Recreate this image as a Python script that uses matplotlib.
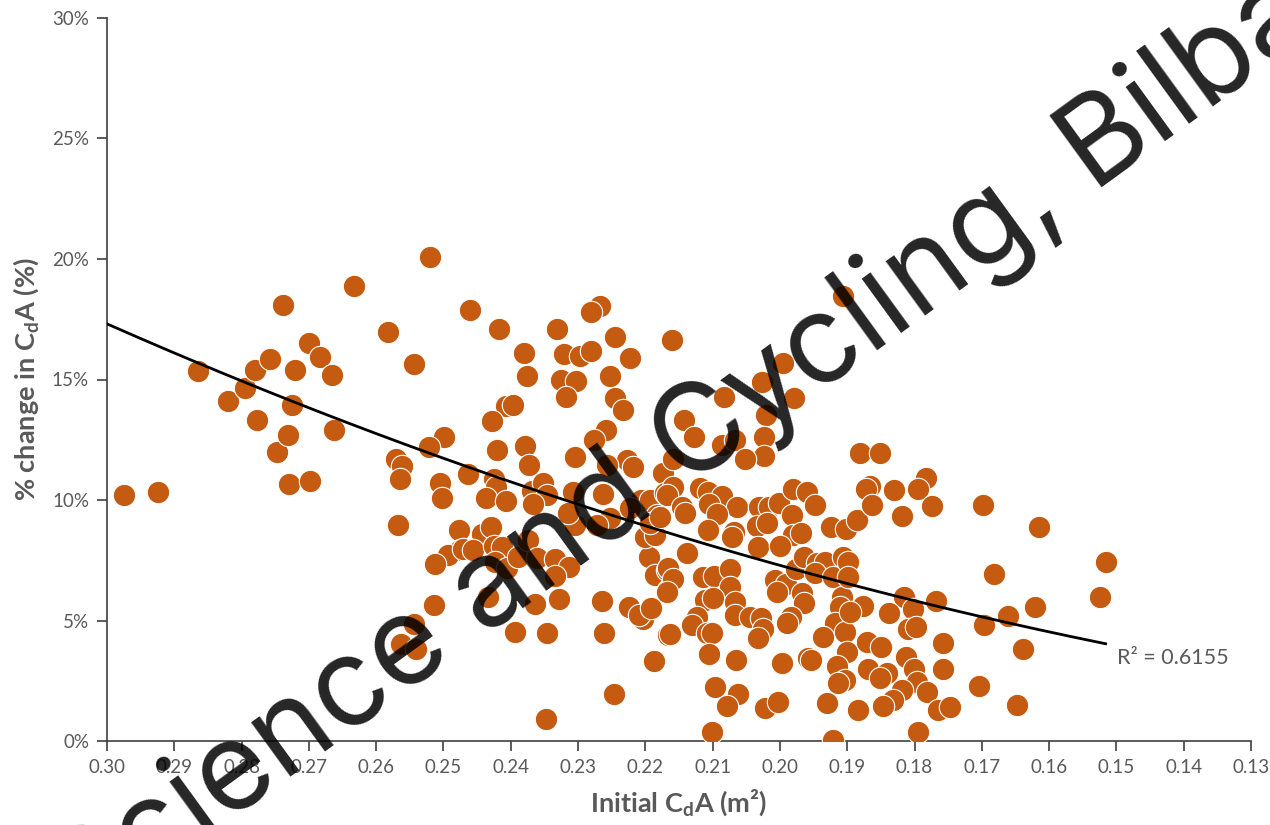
import numpy as np
import matplotlib
matplotlib.use('Agg')
import matplotlib.pyplot as plt
from matplotlib.ticker import MultipleLocator, FormatStrFormatter, PercentFormatter

# initial CdA (m^2) and % change in CdA
cda = [
    0.2975, 0.2924, 0.2865, 0.2820, 0.2795, 0.2780, 0.2777, 0.2758, 0.2747, 0.2738,
    0.2731, 0.2730, 0.2725, 0.2721, 0.2700, 0.2698, 0.2683, 0.2666, 0.2663, 0.2633,
    0.2520, 0.2582, 0.2544, 0.2499, 0.2522, 0.2571, 0.2562, 0.2565, 0.2505, 0.2502,
    0.2568, 0.2477, 0.2475, 0.2493, 0.2513, 0.2514, 0.2544, 0.2563, 0.2541,
    0.2461, 0.2418, 0.2331, 0.2267, 0.2281, 0.2245, 0.2380, 0.2321, 0.2297, 0.2281,
    0.2223, 0.2376, 0.2325, 0.2303, 0.2253, 0.2318, 0.2245, 0.2233, 0.2407, 0.2397,
    0.2428, 0.2258, 0.2276, 0.2420, 0.2379, 0.2373, 0.2305, 0.2227, 0.2218, 0.2174,
    0.2464, 0.2425, 0.2422, 0.2437, 0.2407, 0.2368, 0.2352, 0.2346, 0.2367, 0.2308,
    0.2263, 0.2257, 0.2206, 0.2193, 0.2171, 0.2160,
    0.2443, 0.2429, 0.2471, 0.2456, 0.2425, 0.2413, 0.2423, 0.2406, 0.2389, 0.2374,
    0.2361, 0.2334, 0.2313, 0.2334, 0.2434, 0.2364, 0.2328, 0.2264, 0.2394, 0.2346,
    0.2261, 0.2224, 0.2203, 0.2209, 0.2192, 0.2195, 0.2186, 0.2168, 0.2166, 0.2201,
    0.2186, 0.2183, 0.2193, 0.2223, 0.2253, 0.2272, 0.2305, 0.2315, 0.2187, 0.2166,
    0.2247, 0.2348,
    0.1995, 0.2027, 0.1979, 0.2083, 0.2143, 0.2021, 0.2128, 0.2024, 0.2086, 0.2067,
    0.2024, 0.2052, 0.2159, 0.1881, 0.2159, 0.2168, 0.2119, 0.2107, 0.2086, 0.2105,
    0.2064, 0.2094, 0.2146, 0.2141, 0.2178, 0.2107, 0.2068, 0.2071, 0.2031, 0.2016,
    0.2001, 0.1981, 0.1960, 0.1948, 0.1982, 0.2034, 0.2019, 0.1981, 0.1969, 0.1924,
    0.1902, 0.1886, 0.2033, 0.2000,
    0.2138, 0.2166, 0.2159, 0.2168, 0.2114, 0.2098, 0.2074, 0.2074, 0.2111, 0.2099,
    0.2067, 0.2067, 0.2123, 0.2131, 0.2108, 0.2101, 0.2163, 0.2044, 0.2028, 0.2025,
    0.2033, 0.2007, 0.1991, 0.2004, 0.1976, 0.1964, 0.1967, 0.1964, 0.1984, 0.1990,
    0.1945, 0.1933, 0.1948, 0.1921, 0.1906, 0.1899, 0.1908, 0.1911, 0.1918, 0.1903,
    0.1936, 0.1900, 0.1915, 0.1903, 0.1914, 0.2105, 0.2065, 0.1997, 0.1958, 0.1954,
    0.2097, 0.2062, 0.2079, 0.2022, 0.2003, 0.1930, 0.2101, 0.1921, 0.1884, 0.1906,
    0.1851, 0.1866, 0.1872, 0.1830, 0.1783, 0.1795, 0.1863, 0.1819, 0.1774, 0.1698,
    0.1899, 0.1682, 0.1816, 0.1802, 0.1768, 0.1877, 0.1838, 0.1896, 0.1810, 0.1798,
    0.1697, 0.1870, 0.1850, 0.1758, 0.1813, 0.1801, 0.1758, 0.1869, 0.1841, 0.1851,
    0.1796, 0.1781, 0.1819, 0.1832, 0.1704, 0.1847, 0.1765, 0.1747, 0.1795,
    0.1615, 0.1516, 0.1524, 0.1621, 0.1661, 0.1639, 0.1648,
]
pct_change = [
    10.20, 10.33, 15.35, 14.10, 14.65, 15.40, 13.30, 15.85, 12.00, 18.10,
    12.70, 10.65, 13.95, 15.40, 16.50, 10.80, 15.95, 15.20, 12.90, 18.90,
    20.10, 16.97, 15.64, 12.60, 12.20, 11.70, 11.40, 10.87, 10.70, 10.10,
    8.96, 8.76, 7.93, 7.72, 7.34, 5.64, 4.85, 4.02, 3.82,
    17.90, 17.10, 17.10, 18.05, 17.80, 16.76, 16.10, 16.06, 15.97, 16.20,
    15.90, 15.15, 15.00, 14.94, 15.15, 14.27, 14.23, 13.73, 13.90, 13.94,
    13.28, 12.90, 12.50, 12.07, 12.24, 11.45, 11.78, 11.66, 11.37, 11.10,
    11.08, 10.87, 10.54, 10.08, 9.96, 10.37, 10.70, 10.20, 9.83, 10.33,
    10.25, 11.45, 10.00, 10.00, 10.29, 16.64,
    8.60, 8.88, 7.97, 7.93, 8.09, 8.05, 7.43, 7.18, 7.63, 8.34,
    7.59, 7.55, 7.22, 6.85, 5.98, 5.68, 5.89, 5.81, 4.52, 4.48,
    4.48, 5.56, 5.06, 5.23, 5.52, 7.63, 6.89, 7.10, 6.27, 8.46,
    8.55, 9.38, 9.05, 9.67, 9.25, 8.96, 8.96, 9.46, 3.32, 4.40,
    1.95, 0.91,
    15.70, 14.90, 14.23, 14.27, 13.32, 13.53, 12.60, 12.60, 12.30, 12.50,
    11.83, 11.70, 11.70, 11.95, 10.54, 10.20, 10.50, 10.33, 10.17, 9.83,
    9.71, 9.42, 9.71, 9.46, 9.30, 8.76, 8.67, 8.46, 9.71, 9.71,
    9.88, 10.46, 10.33, 9.79, 9.38, 8.92, 9.05, 8.55, 8.63, 8.88,
    8.80, 9.17, 8.05, 8.09,
    7.80, 7.18, 6.72, 6.18, 6.80, 6.85, 7.14, 6.39, 5.85, 5.93,
    5.77, 5.23, 5.15, 4.81, 4.48, 4.48, 4.44, 5.15, 5.10, 4.65,
    4.27, 6.68, 6.51, 6.18, 7.14, 7.63, 6.14, 5.73, 5.15, 4.90,
    7.39, 7.43, 6.97, 6.80, 7.63, 7.43, 5.98, 5.56, 4.90, 4.52,
    4.32, 3.69, 3.11, 2.53, 2.41, 3.61, 3.36, 3.24, 3.44, 3.36,
    2.24, 1.95, 1.45, 1.37, 1.62, 1.58, 0.37, 0.03, 1.29, 18.46,
    11.95, 10.58, 10.46, 10.41, 10.91, 10.46, 9.79, 9.34, 9.75, 9.79,
    6.80, 6.93, 5.98, 5.48, 5.81, 5.60, 5.31, 5.35, 4.65, 4.73,
    4.81, 4.11, 3.90, 4.07, 3.49, 2.99, 2.99, 2.99, 2.82, 2.61,
    2.45, 2.03, 2.12, 1.70, 2.28, 1.45, 1.29, 1.41, 0.37,
    8.88, 7.43, 5.98, 5.56, 5.19, 3.82, 1.49,
]

# power trendline y = a * x^b, as shown on the chart
trend_coef = 225.7
trend_exp = 2.133
r2_label = 'R² = 0.6155'

x_ticks = np.arange(0.13, 0.3001, 0.01)

plt.rcParams['font.family'] = ['Lato', 'DejaVu Sans']
plt.rcParams['mathtext.fontset'] = 'custom'
plt.rcParams['mathtext.rm'] = 'Lato'
plt.rcParams['mathtext.bf'] = 'Lato:bold'

grey = '#595959'
orange = '#C55A11'


def main():
    fig = plt.figure(figsize=(12.7, 8.25), dpi=100)
    ax = fig.add_axes([0.0843, 0.1018, 0.9007, 0.8764])

    ax.scatter(cda, pct_change, s=260, color=orange, edgecolors='white', linewidths=0.8, zorder=3)

    x_line = np.linspace(0.30, min(cda), 200)
    ax.plot(x_line, trend_coef * x_line ** trend_exp, color='black', lw=2, zorder=4)
    ax.text(0.1499, 3.45, r2_label, color=grey, fontsize=15.5, va='center', ha='left')

    ax.set_xlim(0.30, 0.13)
    ax.set_ylim(0, 30)
    ax.set_xticks(x_ticks)
    ax.xaxis.set_major_formatter(FormatStrFormatter('%.2f'))
    ax.yaxis.set_major_locator(MultipleLocator(5))
    ax.yaxis.set_major_formatter(PercentFormatter(xmax=100, decimals=0))

    for side in ['top', 'right']:
        ax.spines[side].set_visible(False)
    for side in ['left', 'bottom']:
        ax.spines[side].set_color('#404040')
        ax.spines[side].set_linewidth(1.2)
    ax.tick_params(direction='out', length=7, width=1.2, color='#404040', labelcolor=grey, labelsize=13.5, pad=6)

    ax.set_xlabel(r'Initial C$_{\mathbf{d}}$A (m²)', fontsize=19.5, fontweight='bold', color=grey, labelpad=8)
    ax.set_ylabel(r'% change in C$_{\mathbf{d}}$A (%)', fontsize=19.5, fontweight='bold', color=grey, labelpad=8)

    # watermark across the plot
    fig.text(0.576, 0.447, 'Science and Cycling, Bilbao', fontsize=88, family=['Inter', 'DejaVu Sans'],
             color='black', alpha=0.85, rotation=36, rotation_mode='anchor',
             ha='center', va='baseline', zorder=10)

    fig.savefig('out.png', dpi=100)


if __name__ == '__main__':
    main()
